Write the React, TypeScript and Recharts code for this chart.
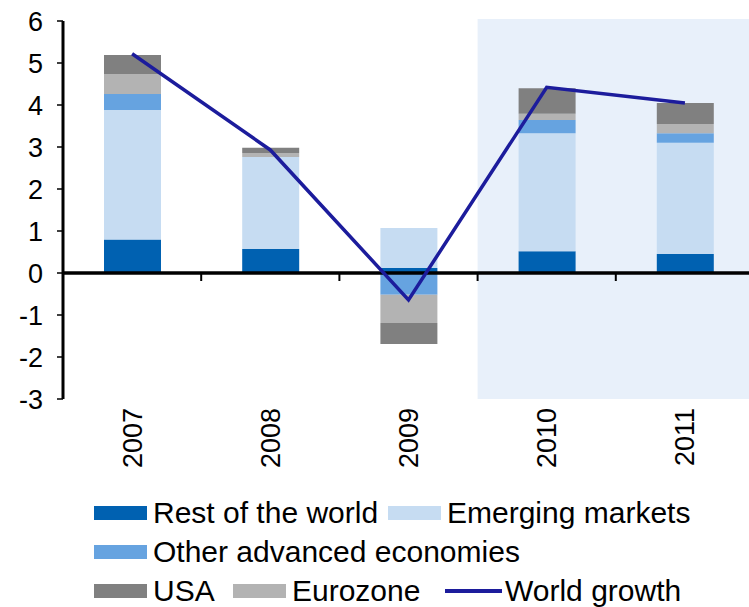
import React from "react";
import {
  ComposedChart,
  Bar,
  Line,
  XAxis,
  YAxis,
  Legend,
  ReferenceArea,
  ReferenceLine,
} from "recharts";

const years = ["2007", "2008", "2009", "2010", "2011"];
const restOfWorld = [0.8, 0.57, 0.12, 0.52, 0.45];
const emergingMarkets = [3.08, 2.19, 0.95, 2.81, 2.65];
const otherAdvanced = [0.38, 0, -0.52, 0.31, 0.23];
const eurozone = [0.48, 0.1, -0.67, 0.15, 0.22];
const usa = [0.45, 0.12, -0.5, 0.61, 0.5];
const worldGrowth = [5.22, 2.93, -0.64, 4.42, 4.05];
const yTicks = [-3, -2, -1, 0, 1, 2, 3, 4, 5, 6];
const forecastYears = ["2010", "2011"];

const FONT = '"Liberation Sans", Arial, sans-serif';

const series = [
  { key: "rest", name: "Rest of the world", color: "#0061B1" },
  { key: "emerging", name: "Emerging markets", color: "#C6DCF2" },
  { key: "other", name: "Other advanced economies", color: "#66A3E0" },
  { key: "euro", name: "Eurozone", color: "#B3B3B3" },
  { key: "usa", name: "USA", color: "#808080" },
];
const lineColor = "#1C1C9C";

const data = years.map((year, i) => ({
  year,
  rest: restOfWorld[i],
  emerging: emergingMarkets[i],
  other: otherAdvanced[i],
  euro: eurozone[i],
  usa: usa[i],
  world: worldGrowth[i],
}));

function YearTick(props: any) {
  const { x, y, payload } = props;
  return (
    <text
      x={x}
      y={y + 9}
      dy="0.35em"
      textAnchor="end"
      transform={`rotate(-90, ${x}, ${y + 9})`}
      fontSize={27}
      fontFamily={FONT}
      fill="#000"
    >
      {payload.value}
    </text>
  );
}

function Swatch({ color }: { color: string }) {
  return <span style={{ display: "inline-block", width: 53, height: 14, background: color, marginRight: 6 }} />;
}

function ChartLegend() {
  const byKey = (k: string) => series.find((s) => s.key === k)!;
  const item = (k: string, left: number, top: number) => {
    const s = byKey(k);
    return (
      <div key={k} style={{ position: "absolute", left, top, height: 40, display: "flex", alignItems: "center" }}>
        <Swatch color={s.color} />
        <span>{s.name}</span>
      </div>
    );
  };
  return (
    <div style={{ position: "relative", width: 749, height: 112, fontFamily: FONT, fontSize: 30, color: "#000" }}>
      {item("rest", 94, 4)}
      {item("emerging", 388, 4)}
      {item("other", 94, 43)}
      {item("usa", 94, 82)}
      {item("euro", 233, 82)}
      <div style={{ position: "absolute", left: 445, top: 82, height: 40, display: "flex", alignItems: "center" }}>
        <span style={{ display: "inline-block", width: 57, height: 3.5, background: lineColor, marginRight: 3 }} />
        <span>World growth</span>
      </div>
    </div>
  );
}

export default function App() {
  return (
    <div style={{ position: "absolute", left: 0, top: 0, background: "#fff" }}>
      <ComposedChart
        width={749}
        height={607}
        data={data}
        stackOffset="sign"
        margin={{ top: 21, right: -5, left: 0, bottom: 6 }}
      >
        <ReferenceArea
          x1={forecastYears[0]}
          x2={forecastYears[1]}
          y1={-3}
          y2={6}
          shape={(p: any) => (
            <rect x={p.x} y={p.y - 2} width={p.width} height={p.height + 2} fill="#E8F0FA" />
          )}
        />
        <XAxis
          dataKey="year"
          axisLine={false}
          tickLine={false}
          tickSize={0}
          tickMargin={0}
          height={90}
          interval={0}
          tick={<YearTick />}
        />
        <YAxis
          domain={[-3, 6]}
          ticks={yTicks}
          interval={0}
          width={63}
          tickSize={6}
          tickMargin={14}
          axisLine={{ stroke: "#000", strokeWidth: 3 }}
          tickLine={{ stroke: "#000", strokeWidth: 1.5 }}
          tick={{ fill: "#000", fontSize: 27, fontFamily: FONT }}
        />
        {series.map((s) => (
          <Bar key={s.key} dataKey={s.key} name={s.name} stackId="a" fill={s.color} barSize={57} isAnimationActive={false} />
        ))}
        <ReferenceLine y={0} stroke="#000" strokeWidth={3.5} />
        {years.slice(0, -1).map((y, i) => (
          <ReferenceLine
            key={`gap-${y}`}
            segment={[
              { x: y, y: 0 },
              { x: years[i + 1], y: 0 },
            ]}
            shape={(p: any) => {
              const mx = (p.x1 + p.x2) / 2;
              return <line x1={mx} y1={p.y1} x2={mx} y2={p.y1 + 8} stroke="#000" strokeWidth={2} />;
            }}
          />
        ))}
        <Line
          dataKey="world"
          name="World growth"
          stroke={lineColor}
          strokeWidth={3.5}
          dot={false}
          isAnimationActive={false}
        />
        <Legend
          verticalAlign="bottom"
          align="left"
          wrapperStyle={{ left: 0, width: 749, height: 112 }}
          content={() => <ChartLegend />}
        />
      </ComposedChart>
    </div>
  );
}
